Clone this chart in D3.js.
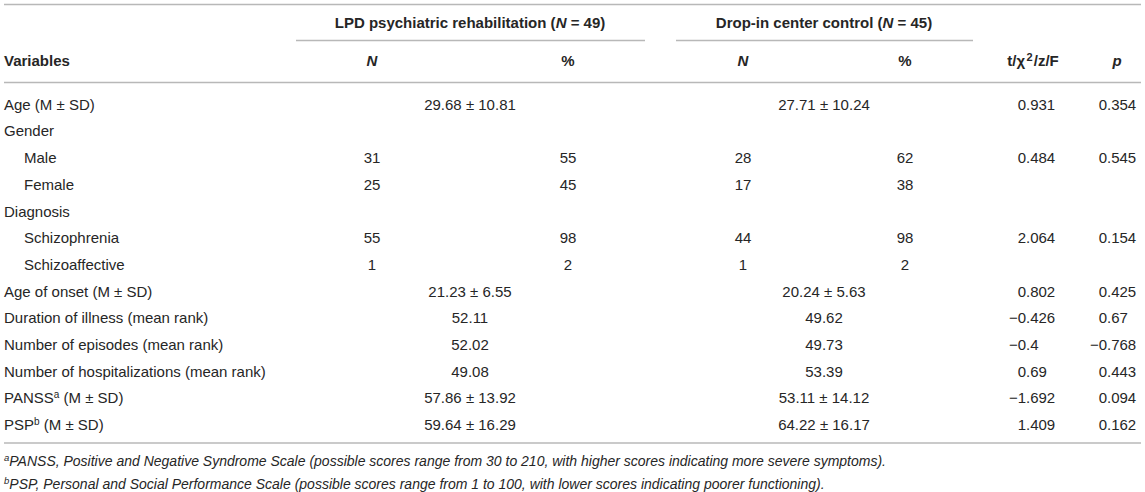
<!DOCTYPE html>
<html>
<head>
<meta charset="utf-8">
<script src="https://cdn.jsdelivr.net/npm/d3@7"></script>
<style>
  body { margin: 0; background: #fff; }
  svg text { font-family: "Liberation Sans", Arial, Helvetica, sans-serif; fill: #262626; }
</style>
</head>
<body>
<svg id="tbl"></svg>
<script>
// row labels, "|" marks a footnote superscript; indent = sub row
var labels = ["Age (M \u00b1 SD)", "Gender", "Male", "Female", "Diagnosis", "Schizophrenia",
  "Schizoaffective", "Age of onset (M \u00b1 SD)", "Duration of illness (mean rank)",
  "Number of episodes (mean rank)", "Number of hospitalizations (mean rank)",
  "PANSS|a| (M \u00b1 SD)", "PSP|b| (M \u00b1 SD)"];
var indent = [0, 0, 1, 1, 0, 1, 1, 0, 0, 0, 0, 0, 0];
// LPD group
var lpdN   = ["", "", "31", "25", "", "55", "1", "", "", "", "", "", ""];
var lpdPct = ["", "", "55", "45", "", "98", "2", "", "", "", "", "", ""];
var lpdMerged = ["29.68 \u00b1 10.81", "", "", "", "", "", "", "21.23 \u00b1 6.55",
  "52.11", "52.02", "49.08", "57.86 \u00b1 13.92", "59.64 \u00b1 16.29"];
// drop-in group
var dicN   = ["", "", "28", "17", "", "44", "1", "", "", "", "", "", ""];
var dicPct = ["", "", "62", "38", "", "98", "2", "", "", "", "", "", ""];
var dicMerged = ["27.71 \u00b1 10.24", "", "", "", "", "", "", "20.24 \u00b1 5.63",
  "49.62", "49.73", "53.39", "53.11 \u00b1 14.12", "64.22 \u00b1 16.17"];
// tests
var tStat = ["0.931", "", "0.484", "", "", "2.064", "", "0.802", "\u22120.426", "\u22120.4",
  "0.69", "\u22121.692", "1.409"];
var pVal  = ["0.354", "", "0.545", "", "", "0.154", "", "0.425", "0.67", "\u22120.768",
  "0.443", "0.094", "0.162"];
var notes = [
  ["a", "PANSS, Positive and Negative Syndrome Scale (possible scores range from 30 to 210, with higher scores indicating more severe symptoms)."],
  ["b", "PSP, Personal and Social Performance Scale (possible scores range from 1 to 100, with lower scores indicating poorer functioning)."]
];

var W = 1145, H = 492;
var svg = d3.select("#tbl").attr("width", W).attr("height", H);

var y = d3.scalePoint().domain(d3.range(labels.length)).range([104.5, 424.9]);
var col = d3.scaleOrdinal()
  .domain(["lpdN", "lpdPct", "lpdMid", "dicN", "dicPct", "dicMid", "t", "p"])
  .range([372, 568, 470, 743, 905, 824, 1026, 1107]);

function rule(x1, x2, yy) {
  svg.append("line").attr("x1", x1).attr("x2", x2).attr("y1", yy).attr("y2", yy)
    .attr("stroke", "#b8b8b8").attr("stroke-width", 1.6);
}
rule(4, 1141, 4.5);
rule(296, 645, 40.5);
rule(676, 973, 40.5);
rule(4, 1141, 82.5);
rule(4, 1141, 443);

// header row 1
function groupHead(x, name, n) {
  var t = svg.append("text").attr("x", x).attr("y", 22.5).attr("dy", "0.35em")
    .attr("text-anchor", "middle").attr("font-size", 15).attr("font-weight", "bold");
  t.append("tspan").text(name + " (");
  t.append("tspan").attr("font-style", "italic").text("N");
  t.append("tspan").text(" = " + n + ")");
}
groupHead(col("lpdMid"), "LPD psychiatric rehabilitation", 49);
groupHead(col("dicMid"), "Drop-in center control", 45);

// header row 2
var h2 = svg.append("g").attr("font-size", 15).attr("font-weight", "bold");
h2.append("text").attr("x", 4).attr("y", 61).attr("dy", "0.35em").text("Variables");
[["lpdN", "N", 1], ["lpdPct", "%", 0], ["dicN", "N", 1], ["dicPct", "%", 0]]
  .forEach(function(d) {
    h2.append("text").attr("x", col(d[0])).attr("y", 61).attr("dy", "0.35em")
      .attr("text-anchor", "middle").attr("font-style", d[2] ? "italic" : "normal").text(d[1]);
  });
h2.append("text").attr("x", col("p") + 10).attr("y", 61).attr("dy", "0.35em")
  .attr("text-anchor", "middle").attr("font-style", "italic").text("p");
var th = h2.append("text").attr("x", col("t") + 7).attr("y", 61).attr("dy", "0.35em")
  .attr("text-anchor", "middle");
th.append("tspan").text("t/\u03c7");
th.append("tspan").attr("font-size", 11).attr("dx", 1.5).attr("dy", -5).text("2");
th.append("tspan").attr("dx", 1).attr("dy", 5).text("/z/F");

// body
var body = svg.append("g").attr("font-size", 15);
labels.forEach(function(l, i) {
  var parts = l.split("|");
  var t = body.append("text").attr("x", indent[i] ? 24 : 4).attr("y", y(i)).attr("dy", "0.35em");
  t.append("tspan").text(parts[0]);
  if (parts.length > 1) {
    t.append("tspan").attr("font-size", 10).attr("dy", -5).text(parts[1]);
    t.append("tspan").attr("dy", 5).text(parts[2]);
  }
});

function centredCells(arr, key) {
  arr.forEach(function(d, i) {
    if (d === "") return;
    body.append("text").attr("x", col(key)).attr("y", y(i)).attr("dy", "0.35em")
      .attr("text-anchor", "middle").text(d);
  });
}
centredCells(lpdN, "lpdN");
centredCells(lpdPct, "lpdPct");
centredCells(lpdMerged, "lpdMid");
centredCells(dicN, "dicN");
centredCells(dicPct, "dicPct");
centredCells(dicMerged, "dicMid");

// decimal aligned cells
function decimalCells(arr, key) {
  arr.forEach(function(d, i) {
    if (d === "") return;
    var k = d.indexOf(".");
    body.append("text").attr("x", col(key)).attr("y", y(i)).attr("dy", "0.35em")
      .attr("text-anchor", "end").text(d.slice(0, k));
    body.append("text").attr("x", col(key)).attr("y", y(i)).attr("dy", "0.35em")
      .attr("text-anchor", "start").text(d.slice(k));
  });
}
decimalCells(tStat, "t");
decimalCells(pVal, "p");

// footnotes
var fn = svg.append("g").attr("font-size", 14).attr("font-style", "italic");
notes.forEach(function(n, i) {
  var t = fn.append("text").attr("x", 4).attr("y", 466 + i * 23).attr("dy", "0.35em");
  t.append("tspan").attr("font-size", 9.5).attr("dy", -5).text(n[0]);
  t.append("tspan").attr("dy", 5).text(n[1]);
});
</script>
</body>
</html>
